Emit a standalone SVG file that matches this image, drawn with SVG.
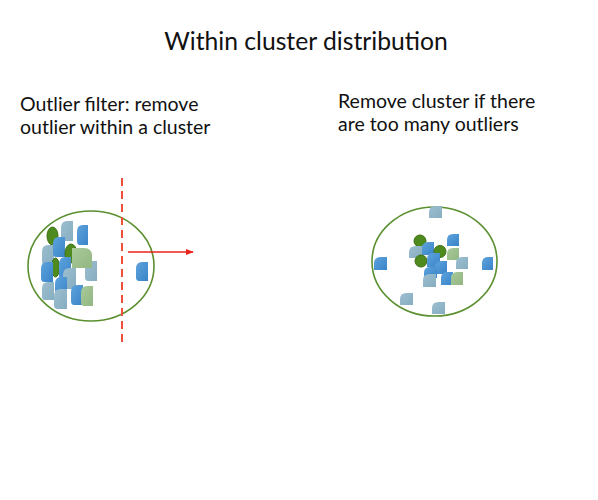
<svg xmlns="http://www.w3.org/2000/svg" xmlns:xlink="http://www.w3.org/1999/xlink" width="598" height="500" viewBox="0 0 598 500">
  <style>
    .txt { font-family: Lato, "Open Sans", "Liberation Sans", sans-serif; fill: #111; }
    .title { font-size: 24.7px; }
    .lbl { font-size: 19.5px; }
    .ring { fill: none; stroke: #5b9030; stroke-width: 1.6; }
    .b { fill: url(#gBlue); }
    .g { fill: url(#gGray); }
    .lg { fill: url(#gLG); }
    .dg { fill: #4f8a1e; stroke: #3d6f12; stroke-width: 1; }
  </style>
  <defs>
    <linearGradient id="gBlue" x1="0" y1="0" x2="1" y2="1">
      <stop offset="0" stop-color="#5da3dc"/>
      <stop offset="1" stop-color="#3a84c8"/>
    </linearGradient>
    <linearGradient id="gGray" x1="0" y1="0" x2="1" y2="1">
      <stop offset="0" stop-color="#9cbfd0"/>
      <stop offset="1" stop-color="#86adc0"/>
    </linearGradient>
    <linearGradient id="gLG" x1="0" y1="0" x2="1" y2="1">
      <stop offset="0" stop-color="#a9c99a"/>
      <stop offset="1" stop-color="#92b782"/>
    </linearGradient>
    <symbol id="tall" viewBox="0 0 12 20" preserveAspectRatio="none">
      <path d="M12 0 H6 Q0 0 0 7 V16 Q0 20 3 20 H12 Z"/>
    </symbol>
    <symbol id="bigr" viewBox="0 0 20 20" preserveAspectRatio="none">
      <path d="M0 0 H12 Q20 0 20 8 V20 H0 Z"/>
    </symbol>
    <symbol id="sq" viewBox="0 0 12 12" preserveAspectRatio="none">
      <path d="M12 0 H6 Q0 0 0 6 V12 H12 Z"/>
    </symbol>
    <marker id="ah" viewBox="0 0 10 10" refX="9" refY="5" markerWidth="8" markerHeight="8" markerUnits="userSpaceOnUse" orient="auto">
      <path d="M0 1 L10 5 L0 9 Z" fill="#e8231b"/>
    </marker>
  </defs>

  <g id="title">
    <text class="txt title" x="306" y="50" text-anchor="middle">Within cluster distribution</text>
  </g>

  <g id="left-label">
    <text class="txt lbl" x="20" y="111">Outlier filter: remove</text>
    <text class="txt lbl" x="20" y="134">outlier within a cluster</text>
  </g>

  <g id="right-label">
    <text class="txt lbl" x="338" y="108">Remove cluster if there</text>
    <text class="txt lbl" x="338" y="131">are too many outliers</text>
  </g>

  <g id="left-cluster">
    <ellipse class="ring" cx="91" cy="266" rx="63" ry="55"/>
    <ellipse class="dg" cx="52.5" cy="236" rx="5.5" ry="9"/>
    <use href="#tall" class="g" x="61" y="221" width="12" height="20"/>
    <use href="#tall" class="b" x="77" y="225" width="11" height="20"/>
    <use href="#tall" class="g" x="42" y="245" width="12" height="20"/>
    <use href="#tall" class="b" x="53" y="237" width="12" height="20"/>
    <ellipse class="dg" cx="71" cy="253.5" rx="6" ry="9.5"/>
    <use href="#tall" class="g" x="85" y="261" width="12" height="20"/>
    <use href="#bigr" class="lg" x="72" y="248" width="20" height="20"/>
    <ellipse class="dg" cx="55.5" cy="267.5" rx="4" ry="9.5"/>
    <use href="#tall" class="b" x="41" y="262" width="12" height="20"/>
    <use href="#tall" class="b" x="59" y="257" width="12" height="23"/>
    <use href="#tall" class="g" x="63" y="268" width="13" height="21"/>
    <use href="#tall" class="g" x="42" y="282" width="12" height="18"/>
    <use href="#tall" class="b" x="55" y="277" width="12" height="20"/>
    <use href="#tall" class="g" x="54" y="289" width="13" height="20"/>
    <use href="#tall" class="b" x="71" y="285" width="12" height="20"/>
    <use href="#tall" class="lg" x="81" y="286" width="12" height="20"/>
    <use href="#tall" class="b" x="136" y="262" width="12" height="19"/>
  </g>

  <g id="cut-line">
    <line x1="122" y1="178" x2="122" y2="347" stroke="#f0503a" stroke-width="2" stroke-dasharray="8 5"/>
  </g>

  <g id="right-cluster">
    <ellipse class="ring" cx="434.5" cy="261.5" rx="62.5" ry="54.5"/>
    <use href="#sq" class="g" x="429" y="206" width="13" height="12"/>
    <circle class="dg" cx="420" cy="241" r="6"/>
    <use href="#sq" class="b" x="447" y="234" width="12" height="12"/>
    <use href="#sq" class="g" x="409" y="246" width="14" height="12"/>
    <use href="#sq" class="b" x="422" y="242" width="12" height="13"/>
    <circle class="dg" cx="440" cy="251.5" r="6"/>
    <use href="#sq" class="lg" x="447" y="248" width="12" height="12"/>
    <circle class="dg" cx="421" cy="261" r="6"/>
    <use href="#sq" class="b" x="427" y="253" width="13" height="14"/>
    <use href="#sq" class="g" x="456" y="257" width="12" height="12"/>
    <use href="#sq" class="b" x="374" y="257" width="13" height="13"/>
    <use href="#sq" class="b" x="482" y="257" width="11" height="13"/>
    <use href="#sq" class="b" x="435" y="261" width="12" height="13"/>
    <use href="#sq" class="b" x="424" y="267" width="13" height="11"/>
    <use href="#sq" class="g" x="423" y="274" width="13" height="13"/>
    <use href="#sq" class="b" x="441" y="272" width="12" height="13"/>
    <use href="#sq" class="lg" x="451" y="272" width="12" height="13"/>
    <use href="#sq" class="g" x="400" y="293" width="13" height="12"/>
    <use href="#sq" class="g" x="432" y="302" width="13" height="12"/>
  </g>

  <g id="connectors">
    <line x1="128" y1="252" x2="193" y2="252" stroke="#e8231b" stroke-width="1.5" marker-end="url(#ah)"/>
  </g>
</svg>
